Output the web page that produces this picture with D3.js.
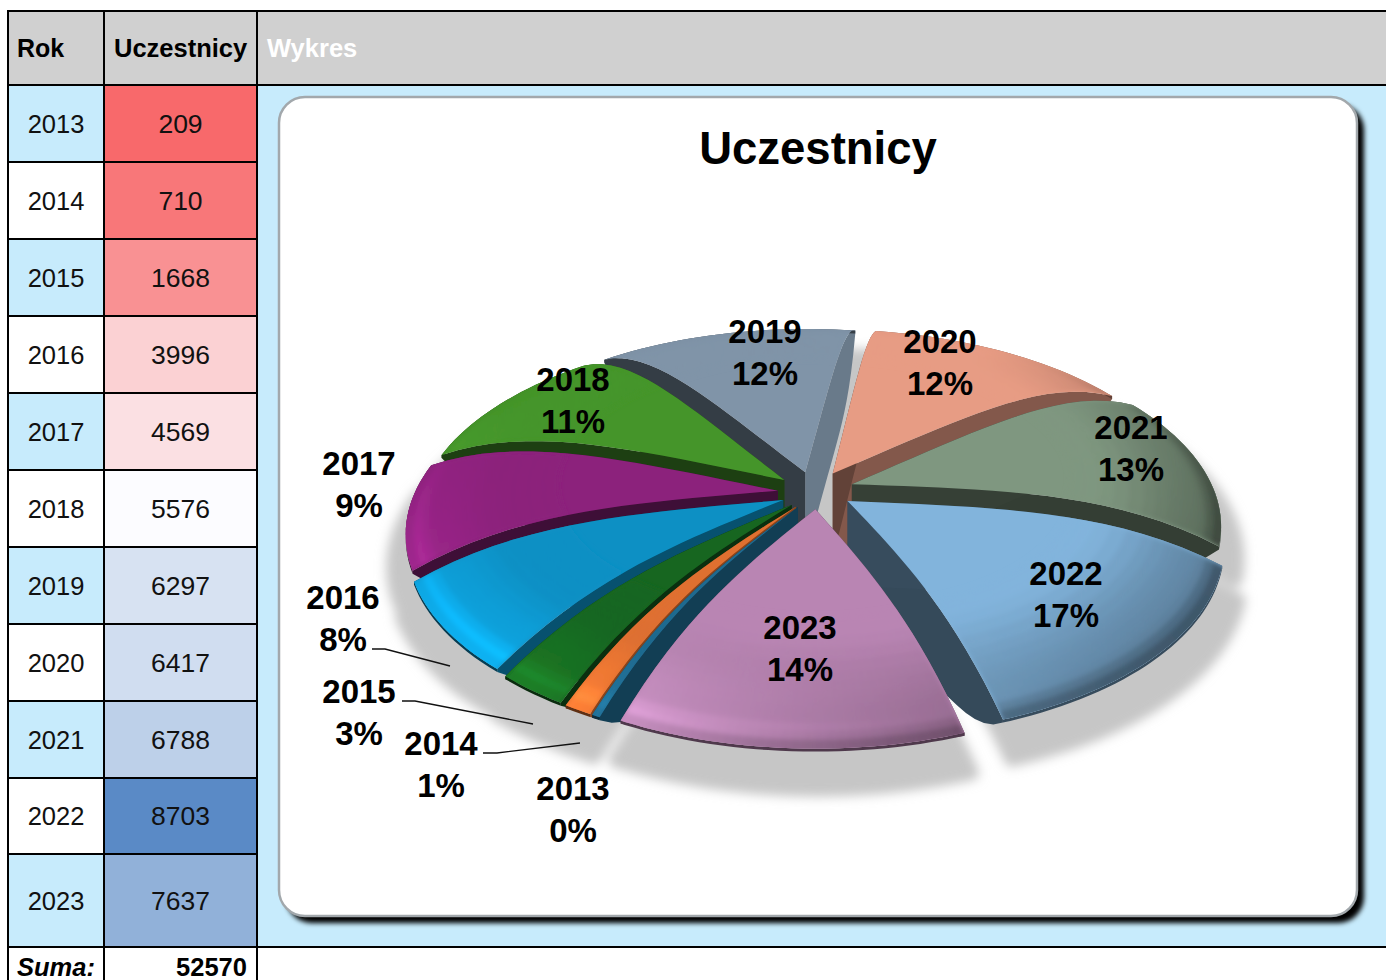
<!DOCTYPE html>
<html>
<head>
<meta charset="utf-8">
<script src="https://cdn.jsdelivr.net/npm/d3@7"></script>
<style>
html,body{margin:0;padding:0;background:#fff;overflow:hidden;}
text{font-family:"Liberation Sans",Arial,sans-serif;}
</style>
</head>
<body>
<div id="chart"></div>
<script>
// data
const years = [2013,2014,2015,2016,2017,2018,2019,2020,2021,2022,2023];
const participants = [209,710,1668,3996,4569,5576,6297,6417,6788,8703,7637];
const percentLabels = ["0%","1%","3%","8%","9%","11%","12%","12%","13%","17%","14%"];
const sliceColors = ["#1f6a8f","#df7030","#176620","#0d90c4","#8c227c","#45952a","#8094a8","#e79c84","#7f9780","#82b4dc","#b985b3"];

const WIDTH = 1386, HEIGHT = 980;
// table grid
const COL_X = [8,104,257];
const ROW_Y = [85,162,239,316,393,470,547,624,701,778,854,947];
const LIGHT_BLUE = "#c7ebfc";

// pie projection
const CX = 816, CY = 490, R = 362, EXPLODE = 38, PERSP = 0.209, SQUASH = 180;
const START_ANGLE = 207*Math.PI/180;
const WALL_APEX = 85, WALL_RIM = 3, DOME_LIFT = 22;
// lens distortion of the rim, degrees added at each clock angle
const warpAt = [207,213,225,252,283,322,365,409,456,515,567];
const warpBy = [-1.9,-3.3,-5,-6,-5,-2.7,4.8,12,14,6.5,-1.9];
// painter's order, far slices first
const drawOrder = [6,7,5,8,4,3,9,2,1,0,10];
const startWallDark = [1.5,1.4,2.2,1.6,2.3,2.4,2.5,2.4,2.4,2.4,2.4];
const endWallDark = [2,2,2,2,2,2,0.55,1.6,2.5,2.5,2];
const bevelSteps = [0.6,0.64,0.68,0.72,0.76,0.8,0.83,0.86,0.88,0.9,0.92,0.94,0.96,0.98,1.02];

// label centres: year line, the percent line sits below it
const labelCentres = [[573,788],[441,743],[359,691],[343,597],[359,463],[573,379],[765,331],[940,341],[1131,427],[1066,573],[800,627]];
const leaders = [
  [[483,753],[497,753],[580,743]],
  [[402,701],[415,701],[533,724]],
  [[372,649],[385,649],[450,666]]
];

const svg = d3.select("#chart").append("svg").attr("width",WIDTH).attr("height",HEIGHT);
const defs = svg.append("defs");
defs.append("filter").attr("id","cardShadow").attr("x","-5%").attr("y","-5%").attr("width","110%").attr("height","110%")
    .append("feGaussianBlur").attr("stdDeviation",2.6);
defs.append("filter").attr("id","pieShadow").attr("x","-10%").attr("y","-10%").attr("width","120%").attr("height","120%")
    .append("feGaussianBlur").attr("stdDeviation",5);
defs.append("filter").attr("id","bevelBlur").attr("x","-10%").attr("y","-10%").attr("width","120%").attr("height","120%")
    .append("feGaussianBlur").attr("stdDeviation",2.4);

//background fills
svg.append("rect").attr("x",COL_X[0]).attr("y",11).attr("width",WIDTH-COL_X[0]).attr("height",ROW_Y[0]-11).attr("fill","#d0d0d0");
svg.append("rect").attr("x",COL_X[2]).attr("y",ROW_Y[0]).attr("width",WIDTH-COL_X[2]).attr("height",ROW_Y[11]-ROW_Y[0]).attr("fill",LIGHT_BLUE);

// excel style three colour scale on the values
const colorScale = d3.scaleLinear()
    .domain([d3.min(participants),d3.median(participants),d3.max(participants)])
    .range(["#f8696b","#fcfcff","#5a8ac6"]);

const rows = svg.append("g").attr("class","rows");
years.forEach((year,i)=>{
    const y0 = ROW_Y[i], y1 = ROW_Y[i+1];
    rows.append("rect").attr("x",COL_X[0]).attr("y",y0).attr("width",COL_X[1]-COL_X[0]).attr("height",y1-y0)
        .attr("fill",i%2===0?LIGHT_BLUE:"#fff");
    rows.append("rect").attr("x",COL_X[1]).attr("y",y0).attr("width",COL_X[2]-COL_X[1]).attr("height",y1-y0)
        .attr("fill",colorScale(participants[i]));
    rows.append("text").attr("x",(COL_X[0]+COL_X[1])/2).attr("y",(y0+y1)/2+9).attr("text-anchor","middle")
        .style("font-size","25.5px").attr("fill","#111").text(year);
    rows.append("text").attr("x",(COL_X[1]+COL_X[2])/2).attr("y",(y0+y1)/2+9).attr("text-anchor","middle")
        .style("font-size","26.5px").attr("fill","#111").text(participants[i]);
});

//header and footer text
const headerY = 57;
svg.append("text").attr("x",17).attr("y",headerY).style("font-size","25px").style("font-weight","bold").text("Rok");
svg.append("text").attr("x",114).attr("y",headerY).style("font-size","25.5px").style("font-weight","bold").text("Uczestnicy");
svg.append("text").attr("x",267).attr("y",headerY).style("font-size","25.5px").style("font-weight","bold").attr("fill","#fff").text("Wykres");
svg.append("text").attr("x",17).attr("y",976).style("font-size","25.5px").style("font-weight","bold").style("font-style","italic").text("Suma:");
svg.append("text").attr("x",247).attr("y",976).attr("text-anchor","end").style("font-size","25.5px").style("font-weight","bold").text(d3.sum(participants));

//grid lines
const grid = svg.append("g").attr("stroke","#000").attr("stroke-width",2);
grid.append("line").attr("x1",COL_X[0]).attr("x2",WIDTH).attr("y1",11).attr("y2",11);
ROW_Y.forEach((y,i)=>{
    const full = i===0 || i===ROW_Y.length-1;
    grid.append("line").attr("x1",COL_X[0]).attr("x2",full?WIDTH:COL_X[2]).attr("y1",y).attr("y2",y);
});
COL_X.forEach(x=>{
    grid.append("line").attr("x1",x).attr("x2",x).attr("y1",10).attr("y2",HEIGHT);
});

//chart card
svg.append("rect").attr("x",286).attr("y",104).attr("width",1078).attr("height",819).attr("rx",26)
    .attr("fill","#000").attr("filter","url(#cardShadow)");
svg.append("rect").attr("x",279).attr("y",97).attr("width",1078).attr("height",819).attr("rx",26)
    .attr("fill","#fff").attr("stroke","#a2a8ac").attr("stroke-width",2.5);
svg.append("text").attr("x",818).attr("y",164).attr("text-anchor","middle")
    .style("font-size","45.5px").style("font-weight","bold").text("Uczestnicy");

// ---- 3d pie ----
const arcs = d3.pie().sort(null).value(d=>d).startAngle(START_ANGLE).endAngle(START_ANGLE+2*Math.PI)(participants);
const warpScale = d3.scaleLinear().domain(warpAt).range(warpBy);

function project(wx,wy){
    const d = 1-PERSP*wy/R;
    return [CX+wx/d, CY+SQUASH*(wy/R)/d];
}
function sliceMid(a){ return (a.startAngle+a.endAngle)/2; }
function warp(t){ return t+warpScale(t*180/Math.PI)*Math.PI/180; }
// f is the fraction of the radius, the top surface domes up between apex and rim
function slicePoint(a,angle,f){
    const mid = sliceMid(a), t = warp(angle);
    const p = project(EXPLODE*Math.sin(mid)+R*f*Math.sin(t), -(EXPLODE*Math.cos(mid)+R*f*Math.cos(t)));
    const bulge = 2.1*f*(1-f*f*f);
    return [p[0],p[1]-DOME_LIFT*bulge];
}
function rimAngles(a){
    const ts = d3.range(a.startAngle,a.endAngle,0.03);
    ts.push(a.endAngle);
    return ts;
}
function wallHeight(f){ return WALL_RIM+(WALL_APEX-WALL_RIM)*(1-Math.pow(f,6)); }
function radialEdge(a,angle){
    return d3.range(0,1.001,0.05).map(f=>slicePoint(a,angle,f));
}
function radialWall(a,angle){
    const fs = d3.range(0,1.001,0.05);
    const top = radialEdge(a,angle);
    const bottom = fs.map((f,i)=>[top[i][0],top[i][1]+wallHeight(f)]);
    return top.concat(bottom.reverse());
}
function topOutline(a){
    return radialEdge(a,a.startAngle).concat(rimAngles(a).map(t=>slicePoint(a,t,1)),radialEdge(a,a.endAngle).reverse());
}
function smooth(e0,e1,x){
    const t = Math.max(0,Math.min(1,(x-e0)/(e1-e0)));
    return t*t*(3-2*t);
}
// rim shading: lit from the lower left, falls off towards lower right
function shade(base,angle,f){
    const t = warp(angle);
    const darkAmp = Math.max(0,Math.cos(t-125*Math.PI/180));
    const glowCos = Math.max(0,Math.cos(t-215*Math.PI/180));
    const dark = darkAmp*(0.9*smooth(0.65,1,f)+1.1*smooth(0.94,1,f))+0.2*smooth(0.97,1,f);
    const glow = glowCos*glowCos*(0.3*smooth(0.75,0.92,f)+0.55*smooth(0.92,0.98,f))*(1-0.5*smooth(0.985,1,f));
    return base.darker(dark).brighter(glow).formatHex();
}
const line = d3.line().curve(d3.curveLinearClosed);

//ground shadow
const shadow = svg.append("g").attr("filter","url(#pieShadow)").attr("fill","#c6c6c6").attr("stroke","#c6c6c6")
    .attr("stroke-width",14).attr("stroke-linejoin","round")
    .attr("transform","translate("+CX+","+(CY+38)+") scale(1.035) translate("+(-CX+2)+","+(-CY-38+32)+")");
arcs.forEach(a=>{
    shadow.append("path").attr("d",line(topOutline(a)));
});
// the middle of the shadow shows through the gaps between slices
shadow.append("ellipse").attr("cx",CX).attr("cy",CY).attr("rx",70).attr("ry",50);
shadow.append("path").attr("d",line(topOutline(arcs[6]))).attr("transform","translate(14,0)");

const pie = svg.append("g").attr("class","pie");
drawOrder.forEach(i=>{
    const a = arcs[i];
    const g = pie.append("g").attr("class","slice-"+years[i]);
    const base = d3.color(sliceColors[i]);
    const ts = rimAngles(a);
    const rim = ts.map(t=>slicePoint(a,t,1));
    const rimBand = rim.concat(rim.map(p=>[p[0],p[1]+WALL_RIM]).reverse());
    const outline = line(topOutline(a));
    g.append("path").attr("d",line(radialWall(a,a.endAngle))).attr("fill",base.darker(endWallDark[i]).formatHex());
    g.append("path").attr("d",line(radialWall(a,a.startAngle))).attr("fill",base.darker(startWallDark[i]).formatHex());
    g.append("path").attr("d",line(rimBand)).attr("fill",base.darker(2.4).formatHex());
    g.append("path").attr("d",outline).attr("fill",base.formatHex());
    defs.append("clipPath").attr("id","clip"+i).append("path").attr("d",outline);
    // bevel cells along the rim, blurred and kept inside the top face
    const cells = g.append("g").attr("clip-path","url(#clip"+i+")").append("g").attr("filter","url(#bevelBlur)");
    for(let b=0;b<bevelSteps.length-1;b++){
        const f0 = bevelSteps[b], f1 = bevelSteps[b+1];
        for(let k=0;k<ts.length-1;k++){
            const col = shade(base,(ts[k]+ts[k+1])/2,(f0+Math.min(f1,1))/2);
            cells.append("path")
                .attr("d",line([slicePoint(a,ts[k],f0),slicePoint(a,ts[k+1],f0),slicePoint(a,ts[k+1],f1),slicePoint(a,ts[k],f1)]))
                .attr("fill",col).attr("stroke",col).attr("stroke-width",0.6);
        }
    }
});

//labels
const labels = svg.append("g").attr("class","labels").attr("text-anchor","middle")
    .style("font-size","33px").style("font-weight","bold");
years.forEach((year,i)=>{
    const c = labelCentres[i];
    labels.append("text").attr("x",c[0]).attr("y",c[1]+12).text(year);
    labels.append("text").attr("x",c[0]).attr("y",c[1]+54).text(percentLabels[i]);
});
svg.append("g").selectAll("path").data(leaders).join("path")
    .attr("d",d3.line().curve(d3.curveLinear))
    .attr("fill","none").attr("stroke","#111").attr("stroke-width",1.3);
</script>
</body>
</html>
